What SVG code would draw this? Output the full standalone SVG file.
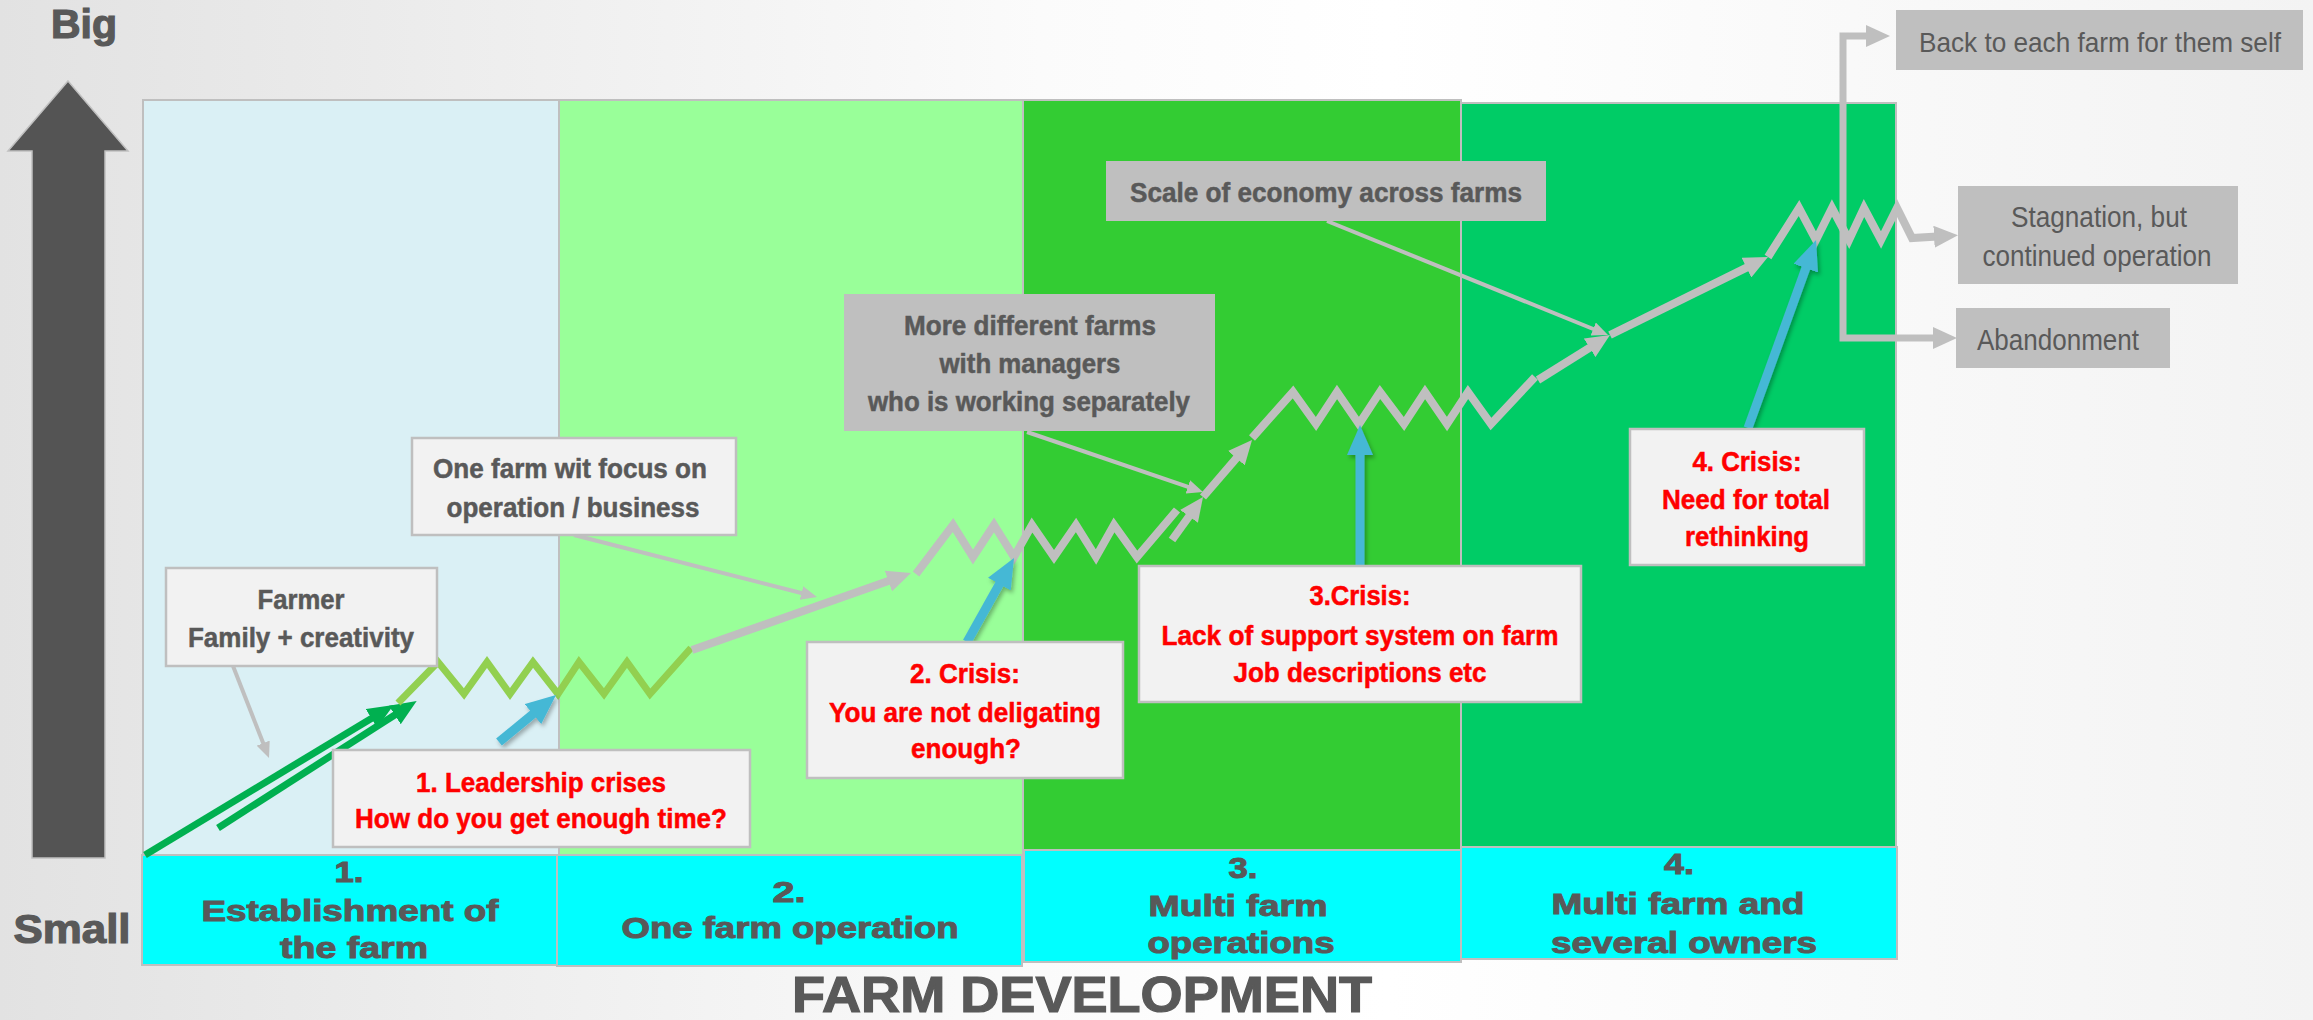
<svg xmlns="http://www.w3.org/2000/svg" width="2313" height="1020" viewBox="0 0 2313 1020">
<defs>
<linearGradient id="bg" x1="0" y1="0" x2="1" y2="0">
<stop offset="0" stop-color="#e2e2e2"/>
<stop offset="0.45" stop-color="#fbfbfb"/>
<stop offset="0.6" stop-color="#ffffff"/>
<stop offset="1" stop-color="#f3f3f3"/>
</linearGradient>
<marker id="ahG" viewBox="0 0 24 22" refX="12" refY="11" markerWidth="24" markerHeight="22" markerUnits="userSpaceOnUse" orient="auto"><path d="M0,0 L24,11 L0,22 z" fill="#bfbfbf"/></marker>
<marker id="ahP" viewBox="0 0 16 14" refX="8" refY="7" markerWidth="16" markerHeight="14" markerUnits="userSpaceOnUse" orient="auto"><path d="M0,0 L16,7 L0,14 z" fill="#bfbfbf"/></marker>
<marker id="ahB" viewBox="0 0 30 26" refX="14" refY="13" markerWidth="30" markerHeight="26" markerUnits="userSpaceOnUse" orient="auto"><path d="M0,0 L30,13 L0,26 z" fill="#45b8d5"/></marker>
<marker id="ahN" viewBox="0 0 26 22" refX="12" refY="11" markerWidth="26" markerHeight="22" markerUnits="userSpaceOnUse" orient="auto"><path d="M0,0 L26,11 L0,22 z" fill="#00b050"/></marker>
<filter id="sh" x="-20%" y="-20%" width="140%" height="140%"><feDropShadow dx="2" dy="3" stdDeviation="2" flood-color="#000" flood-opacity="0.3"/></filter>
</defs>
<style>
.t{font-family:"Liberation Sans",Arial,Helvetica,sans-serif;font-weight:bold;text-anchor:middle}
.g{fill:#595959;stroke:#595959;stroke-width:0.5}
.r{fill:#ff0000;stroke:#ff0000;stroke-width:0.5}
.n{font-weight:normal;stroke:none}
.s27{font-size:27px}
.lab{font-size:30px;fill:#595959;stroke:#595959;stroke-width:1}
.hv{stroke-width:1.2}
.box{fill:#f2f2f2;stroke:#bfbfbf;stroke-width:2.5}
.gbox{fill:#bfbfbf}
.panel{stroke:#bfbfbf;stroke-width:2}
.cyan{fill:#00ffff;stroke:#bfbfbf;stroke-width:2}
.gp{fill:none;stroke:#bfbfbf;stroke-width:8;stroke-linejoin:miter}
.gz{fill:none;stroke:#92d050;stroke-width:7;stroke-linejoin:miter}
.pt{fill:none;stroke:#bfbfbf;stroke-width:4}
.bl{fill:none;stroke:#45b8d5;stroke-width:9}
.gr{fill:none;stroke:#00b050;stroke-width:7}
</style>
<rect x="0" y="0" width="2313" height="1020" fill="url(#bg)"/>

<g id="axis">
<path d="M68,81 L128,151 L105,151 L105,858 L32,858 L32,151 L8,151 Z" fill="#545454" stroke="#c0c0c0" stroke-width="1.5"/>
<text class="t g hv" x="84" y="38" font-size="40" textLength="66" lengthAdjust="spacingAndGlyphs">Big</text>
<text class="t g hv" x="72" y="943" font-size="40" textLength="117" lengthAdjust="spacingAndGlyphs">Small</text>
<text class="t g hv" x="1082" y="1012" font-size="50" textLength="580" lengthAdjust="spacingAndGlyphs">FARM DEVELOPMENT</text>
</g>

<g id="panels">
<rect class="panel" x="143" y="100" width="416" height="755" fill="#daf0f5"/>
<rect class="panel" x="559" y="100" width="464" height="755" fill="#99ff99"/>
<rect class="panel" x="1023" y="100" width="438" height="750" fill="#33cc33"/>
<rect class="panel" x="1461" y="103" width="435" height="744" fill="#00cc66"/>
</g>

<g id="stage1">
<rect class="cyan" x="142" y="855" width="415" height="110"/>
<text class="t lab" x="349" y="882" textLength="29" lengthAdjust="spacingAndGlyphs">1.</text>
<text class="t lab" x="350" y="921" textLength="297" lengthAdjust="spacingAndGlyphs">Establishment of</text>
<text class="t lab" x="354" y="958" textLength="148" lengthAdjust="spacingAndGlyphs">the farm</text>
</g>
<g id="stage2">
<rect class="cyan" x="557" y="855" width="465" height="111"/>
<text class="t lab" x="789" y="902" textLength="33" lengthAdjust="spacingAndGlyphs">2.</text>
<text class="t lab" x="790" y="938" textLength="337" lengthAdjust="spacingAndGlyphs">One farm operation</text>
</g>
<g id="stage3">
<rect class="cyan" x="1024" y="850" width="437" height="112"/>
<text class="t lab" x="1243" y="878" textLength="29" lengthAdjust="spacingAndGlyphs">3.</text>
<text class="t lab" x="1238" y="916" textLength="179" lengthAdjust="spacingAndGlyphs">Multi farm</text>
<text class="t lab" x="1241" y="953" textLength="187" lengthAdjust="spacingAndGlyphs">operations</text>
</g>
<g id="stage4">
<rect class="cyan" x="1461" y="847" width="436" height="112"/>
<text class="t lab" x="1679" y="874" textLength="30" lengthAdjust="spacingAndGlyphs">4.</text>
<text class="t lab" x="1678" y="914" textLength="253" lengthAdjust="spacingAndGlyphs">Multi farm and</text>
<text class="t lab" x="1684" y="953" textLength="266" lengthAdjust="spacingAndGlyphs">several owners</text>
</g>

<g id="connectors">
<line class="pt" x1="233" y1="666" x2="266.1" y2="750.6" marker-end="url(#ahP)"/>
<line class="pt" x1="574" y1="535" x2="809.2" y2="595" marker-end="url(#ahP)"/>
<line class="pt" x1="1027" y1="432" x2="1195.4" y2="489.4" marker-end="url(#ahP)"/>
<line class="pt" x1="1327" y1="221" x2="1600.6" y2="332" marker-end="url(#ahP)"/>

<line class="gr" x1="145" y1="855" x2="381.7" y2="712.2" marker-end="url(#ahN)"/>
<line class="gr" x1="218" y1="828" x2="404.9" y2="708.5" marker-end="url(#ahN)"/>

<polyline class="gz" points="398,703 438,662 464,694 487,662 510,694 533,662 558,694 579,662 604,694 627,662 650,694 691,648"/>

<line class="gp" x1="692" y1="650" x2="899.7" y2="577" marker-end="url(#ahG)"/>
<polyline class="gp" points="916,574 953,525 973,557 994,525 1014,557 1032,525 1054,557 1076,525 1096,557 1114,525 1137,557 1177,510"/>
<line class="gp" x1="1172" y1="540" x2="1196" y2="506.7" marker-end="url(#ahG)"/>
<line class="gp" x1="1203" y1="497" x2="1244.2" y2="449.1" marker-end="url(#ahG)"/>
<polyline class="gp" points="1252,438 1293,392 1316,424 1337,392 1359,424 1380,392 1404,424 1425,392 1447,424 1468,392 1491,424 1535,377"/>
<line class="gp" x1="1538" y1="380" x2="1599.8" y2="341.4" marker-end="url(#ahG)"/>
<line class="gp" x1="1610" y1="335" x2="1757.2" y2="262.3" marker-end="url(#ahG)"/>
<polyline class="gp" points="1768,257 1799,208 1816,240 1832,208 1849,240 1864,208 1881,240 1897,208 1912,238 1946,236" marker-end="url(#ahG)"/>
<path class="gp" style="stroke-width:7" d="M1843,200 V36 H1878" marker-end="url(#ahG)"/>
<path class="gp" style="stroke-width:7" d="M1843,200 V338 H1945" marker-end="url(#ahG)"/>

<g filter="url(#sh)">
<line class="bl" x1="499" y1="742" x2="543.7" y2="705.2" marker-end="url(#ahB)"/>
<line class="bl" x1="967" y1="642" x2="1006.2" y2="572" marker-end="url(#ahB)"/>
<line class="bl" x1="1360" y1="565" x2="1360" y2="441" marker-end="url(#ahB)"/>
<line class="bl" x1="1748" y1="428" x2="1810.6" y2="255" marker-end="url(#ahB)"/>
</g>
</g>

<g id="farmer">
<rect class="box" x="166" y="568" width="271" height="98"/>
<text class="t g s27" x="301" y="609" textLength="87" lengthAdjust="spacingAndGlyphs">Farmer</text>
<text class="t g s27" x="301" y="647" textLength="226" lengthAdjust="spacingAndGlyphs">Family + creativity</text>
</g>
<g id="onefarm">
<rect class="box" x="412" y="438" width="324" height="97"/>
<text class="t g s27" x="570" y="478" textLength="274" lengthAdjust="spacingAndGlyphs">One farm wit focus on</text>
<text class="t g s27" x="573" y="517" textLength="253" lengthAdjust="spacingAndGlyphs">operation / business</text>
</g>
<g id="moredifferent">
<rect class="gbox" x="844" y="294" width="371" height="137"/>
<text class="t g s27" x="1030" y="335" textLength="252" lengthAdjust="spacingAndGlyphs">More different farms</text>
<text class="t g s27" x="1030" y="373" textLength="181" lengthAdjust="spacingAndGlyphs">with managers</text>
<text class="t g s27" x="1029" y="411" textLength="322" lengthAdjust="spacingAndGlyphs">who is working separately</text>
</g>
<g id="scale">
<rect class="gbox" x="1106" y="161" width="440" height="60"/>
<text class="t g s27" x="1326" y="202" textLength="392" lengthAdjust="spacingAndGlyphs">Scale of economy across farms</text>
</g>
<g id="backtofarm">
<rect class="gbox" x="1896" y="10" width="407" height="60"/>
<text class="t g n" x="2100" y="52" font-size="28" textLength="362" lengthAdjust="spacingAndGlyphs">Back to each farm for them self</text>
</g>
<g id="stagnation">
<rect class="gbox" x="1958" y="186" width="280" height="98"/>
<text class="t g n" x="2099" y="227" font-size="29" textLength="176" lengthAdjust="spacingAndGlyphs">Stagnation, but</text>
<text class="t g n" x="2097" y="266" font-size="29" textLength="229" lengthAdjust="spacingAndGlyphs">continued operation</text>
</g>
<g id="abandonment">
<rect class="gbox" x="1956" y="308" width="214" height="60"/>
<text class="t g n" x="2058" y="350" font-size="29" textLength="162" lengthAdjust="spacingAndGlyphs">Abandonment</text>
</g>

<g id="crisis1">
<rect class="box" x="333" y="750" width="417" height="97"/>
<text class="t r s27" x="541" y="792" textLength="250" lengthAdjust="spacingAndGlyphs">1. Leadership crises</text>
<text class="t r s27" x="541" y="828" textLength="372" lengthAdjust="spacingAndGlyphs">How do you get enough time?</text>
</g>
<g id="crisis2">
<rect class="box" x="807" y="642" width="316" height="136"/>
<text class="t r s27" x="965" y="683" textLength="110" lengthAdjust="spacingAndGlyphs">2. Crisis:</text>
<text class="t r s27" x="965" y="722" textLength="272" lengthAdjust="spacingAndGlyphs">You are not deligating</text>
<text class="t r s27" x="966" y="758" textLength="110" lengthAdjust="spacingAndGlyphs">enough?</text>
</g>
<g id="crisis3">
<rect class="box" x="1139" y="566" width="442" height="136"/>
<text class="t r s27" x="1360" y="605" textLength="101" lengthAdjust="spacingAndGlyphs">3.Crisis:</text>
<text class="t r s27" x="1360" y="645" textLength="397" lengthAdjust="spacingAndGlyphs">Lack of support system on farm</text>
<text class="t r s27" x="1360" y="682" textLength="253" lengthAdjust="spacingAndGlyphs">Job descriptions etc</text>
</g>
<g id="crisis4">
<rect class="box" x="1630" y="429" width="234" height="136"/>
<text class="t r s27" x="1747" y="471" textLength="109" lengthAdjust="spacingAndGlyphs">4. Crisis:</text>
<text class="t r s27" x="1746" y="509" textLength="168" lengthAdjust="spacingAndGlyphs">Need for total</text>
<text class="t r s27" x="1747" y="546" textLength="124" lengthAdjust="spacingAndGlyphs">rethinking</text>
</g>
</svg>
